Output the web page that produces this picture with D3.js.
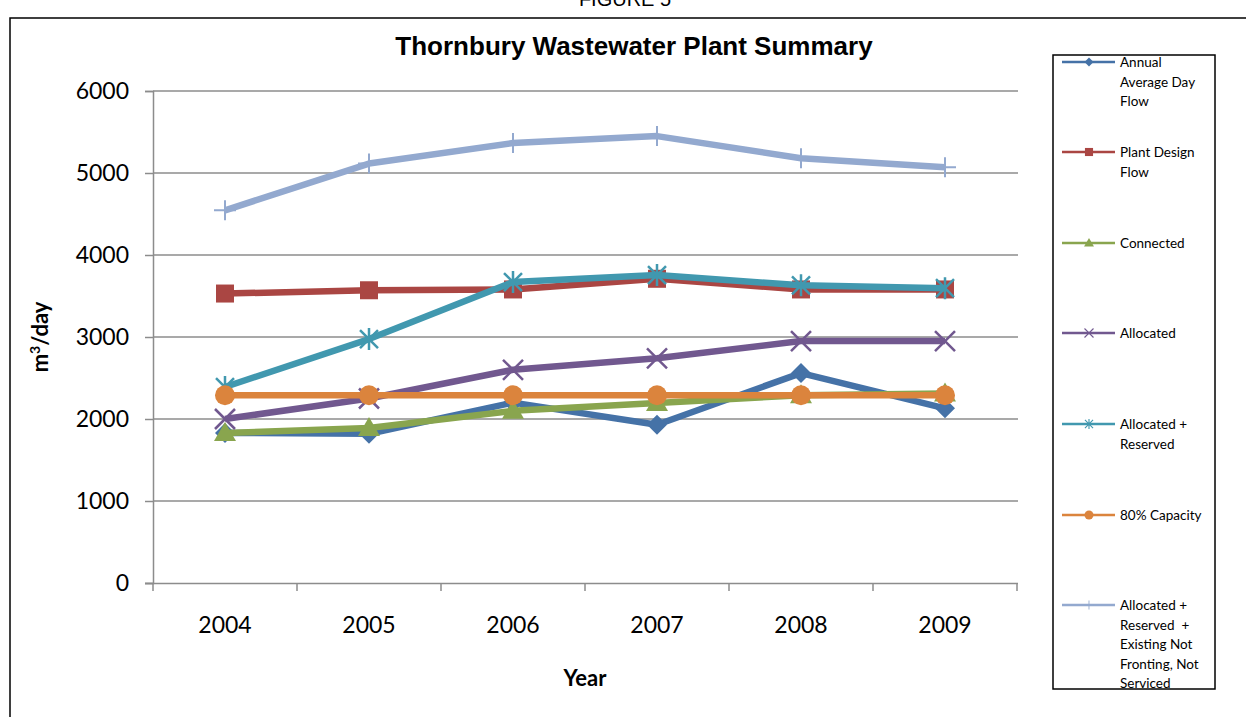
<!DOCTYPE html>
<html>
<head>
<meta charset="utf-8">
<script src="https://cdn.jsdelivr.net/npm/d3@7"></script>
<style>
body{margin:0;background:#fff;}
svg{display:block;}
</style>
</head>
<body>
<script>
const width=1246, height=717;

const years=['2004','2005','2006','2007','2008','2009'];
const yTicks=[0,1000,2000,3000,4000,5000,6000];
const seriesNames=['Annual Average Day Flow','Plant Design Flow','Connected','Allocated','Allocated + Reserved','80% Capacity','Allocated + Reserved  + Existing Not Fronting, Not Serviced'];
const annualAvg=[1830,1820,2200,1930,2560,2130];
const designFlow=[3530,3570,3580,3710,3580,3580];
const connected=[1830,1890,2100,2195,2290,2310];
const allocated=[2000,2250,2600,2740,2950,2950];
const allocReserved=[2390,2975,3670,3755,3630,3595];
const capacity80=[2290,2290,2290,2290,2290,2290];
const allocResExisting=[4545,5115,5365,5450,5180,5070];

const colors=['#4572A7','#AA4643','#89A54E','#71588F','#4198AF','#DB843D','#93A9CF'];
const markers=['diamond','square','triangle','x','star','circle','plus'];
const legendLines=[['Annual','Average Day','Flow'],['Plant Design','Flow'],['Connected'],['Allocated'],['Allocated +','Reserved'],['80% Capacity'],['Allocated +','Reserved  +','Existing Not','Fronting, Not','Serviced']];
const allData=[annualAvg,designFlow,connected,allocated,allocReserved,capacity80,allocResExisting];

const svg=d3.select('body').append('svg').attr('width',width).attr('height',height);

// outer frame and figure caption (cut off at the top, as in the scan)
svg.append('text').text('FIGURE 5').attr('x',625).attr('y',6).attr('text-anchor','middle')
  .style('font-family','Liberation Sans, Arial').style('font-size','20px');
svg.append('path').attr('d','M10,717 L10,18 L1246,18').attr('fill','none').attr('stroke','#000').attr('stroke-width',1.5);

const x=d3.scaleBand().domain(years).range([153,1017]);
const y=d3.scaleLinear().domain([0,6000]).range([583,91]);

// gridlines
svg.append('g').selectAll('line').data(yTicks.slice(1)).enter().append('line')
  .attr('x1',153).attr('x2',1018).attr('y1',d=>y(d)).attr('y2',d=>y(d))
  .attr('stroke','#8c8c8c').attr('stroke-width',1.5);

const yAxis=svg.append('g').attr('transform','translate(153,0)')
  .call(d3.axisLeft(y).tickValues(yTicks).tickSize(8).tickPadding(16).tickFormat(d3.format('d')));
const xAxis=svg.append('g').attr('transform','translate(0,583)')
  .call(d3.axisBottom(x).tickSize(0).tickPadding(34));
// x ticks at band boundaries
svg.append('g').selectAll('line').data(years.concat(['end'])).enter().append('line')
  .attr('x1',(d,i)=>153+i*x.step()).attr('x2',(d,i)=>153+i*x.step())
  .attr('y1',583).attr('y2',591).attr('stroke','#8c8c8c').attr('stroke-width',1.5);
[yAxis,xAxis].forEach(a=>{
  a.selectAll('path,line').attr('stroke','#8c8c8c').attr('stroke-width',1.5);
  a.selectAll('text').style('font-family','Lato, Open Sans, sans-serif').style('font-size','23px').attr('fill','#000');
});
xAxis.select('.domain').attr('d','M145,0.5H1018');

svg.append('text').text('Thornbury Wastewater Plant Summary').attr('x',634).attr('y',55)
  .attr('text-anchor','middle').style('font-family','Liberation Sans, Arial').style('font-weight','bold').style('font-size','26px');
svg.append('text').text('Year').attr('x',585).attr('y',686).attr('text-anchor','middle')
  .style('font-family','Lato, Open Sans, sans-serif').style('font-weight','bold').style('font-size','22px');
svg.append('text').attr('transform','translate(48,337) rotate(-90)').attr('text-anchor','middle')
  .style('font-family','Lato, Open Sans, sans-serif').style('font-weight','bold').style('font-size','22px')
  .html('m<tspan dy="-8" font-size="14">3</tspan><tspan dy="8">/day</tspan>');

function drawMarker(g,type,color,cx,cy){
  if(type==='diamond') g.append('path').attr('d',`M${cx},${cy-10}L${cx+10},${cy}L${cx},${cy+10}L${cx-10},${cy}Z`).attr('fill',color);
  else if(type==='square') g.append('rect').attr('x',cx-9).attr('y',cy-9).attr('width',18).attr('height',18).attr('fill',color);
  else if(type==='triangle') g.append('path').attr('d',`M${cx},${cy-11}L${cx+11},${cy+8}L${cx-11},${cy+8}Z`).attr('fill',color);
  else if(type==='circle') g.append('circle').attr('cx',cx).attr('cy',cy).attr('r',10).attr('fill',color);
  else if(type==='x') g.append('path').attr('d',`M${cx-10},${cy-10}L${cx+10},${cy+10}M${cx-10},${cy+10}L${cx+10},${cy-10}`).attr('stroke',color).attr('stroke-width',2.5);
  else if(type==='star') g.append('path').attr('d',`M${cx-9},${cy-9}L${cx+9},${cy+9}M${cx-9},${cy+9}L${cx+9},${cy-9}M${cx},${cy-11}L${cx},${cy+11}`).attr('stroke',color).attr('stroke-width',2.5);
  else if(type==='plus') g.append('path').attr('d',`M${cx-11},${cy}L${cx+11},${cy}M${cx},${cy-10}L${cx},${cy+10}`).attr('stroke',color).attr('stroke-width',2);
}

const line=d3.line().x((d,i)=>x(years[i])+x.bandwidth()/2).y(d=>y(d));
allData.forEach((vals,si)=>{
  const g=svg.append('g');
  g.append('path').datum(vals).attr('d',line).attr('fill','none').attr('stroke',colors[si])
    .attr('stroke-width',6.5).attr('stroke-linejoin','round');
  vals.forEach((v,i)=>drawMarker(g,markers[si],colors[si],x(years[i])+x.bandwidth()/2,y(v)));
});

// legend
const lg=svg.append('g');
lg.append('rect').attr('x',1053).attr('y',55).attr('width',162).attr('height',634)
  .attr('fill','#fff').attr('stroke','#000').attr('stroke-width',1.5);
const legendY=[62,152,243,333,424,515,605];
seriesNames.forEach((name,i)=>{
  const ly=legendY[i];
  lg.append('line').attr('x1',1062).attr('x2',1115).attr('y1',ly).attr('y2',ly).attr('stroke',colors[i]).attr('stroke-width',2.5);
  const mg=lg.append('g').attr('transform',`translate(1089,${ly}) scale(0.45) translate(-1089,${-ly})`);
  drawMarker(mg,markers[i],colors[i],1089,ly);
  legendLines[i].forEach((t,j)=>{
    lg.append('text').text(t).attr('x',1120).attr('y',ly+5+j*19.5)
      .style('font-family','Lato, Open Sans, sans-serif').style('font-size','13.5px').style('white-space','pre');
  });
});
</script>
</body>
</html>
